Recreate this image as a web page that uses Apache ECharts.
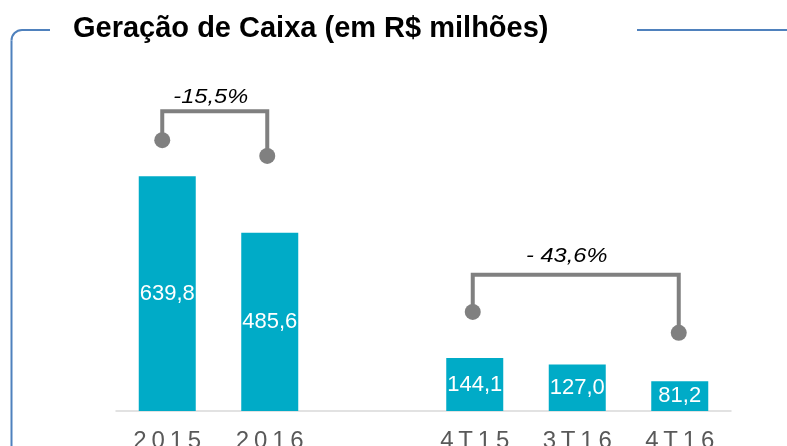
<!DOCTYPE html>
<html>
<head>
<meta charset="utf-8">
<script src="https://cdn.jsdelivr.net/npm/echarts@6/dist/echarts.min.js"></script>
<style>
  html, body { margin: 0; padding: 0; background: #fff; }
  #main { width: 787px; height: 446px; }
</style>
</head>
<body>
<div id="main"></div>
<script>
// categorias (a vazia separa anual de trimestral)
const categories = ['2015', '2016', '', '4T15', '3T16', '4T16'];
const values = [639.8, 485.6, '-', 144.1, 127.0, 81.2];

// chaves de variação: [categoria inicial, categoria final, texto]
const brackets = [
  { from: 0, to: 1, text: '-15,5%', top: 817, left: 738, right: 695, label: 855, dx: -5, labelDx: -4 },
  { from: 3, to: 5, text: '- 43,6%', top: 371, left: 270, right: 213, label: 422, dx: -2, labelDx: -9 }
];

const font = 'Liberation Sans, Arial, sans-serif';
const chart = echarts.init(document.getElementById('main'), null, { renderer: 'canvas' });

const option = {
  animation: false,
  grid: { left: 116, right: 56, top: 44, bottom: 35, outerBoundsMode: 'none', containLabel: false },
  xAxis: {
    type: 'category',
    data: categories,
    axisLine: { lineStyle: { color: '#d9d9d9', width: 1.5 } },
    axisTick: { show: false },
    axisLabel: {
      color: '#595959', fontSize: 24, fontFamily: font, margin: 18,
      formatter: v => v.split('').join('\u2009')
    }
  },
  yAxis: {
    type: 'value',
    min: 0,
    max: 1000,
    show: false,
    splitLine: { show: false }
  },
  series: [
    {
      type: 'bar',
      data: values,
      barWidth: 57,
      itemStyle: { color: '#00abc7' },
      label: {
        show: true,
        position: 'inside',
        color: '#fff',
        fontSize: 22,
        fontFamily: font,
        formatter: p => p.value.toFixed(1).replace('.', ',')
      }
    }
  ]
};
chart.setOption(option);

// desenha as chaves e a moldura
const grey = '#808080';
const blue = '#4f81bd';
const elements = [];
brackets.forEach(b => {
  const px = (c, v) => chart.convertToPixel({ xAxisIndex: 0, yAxisIndex: 0 }, [c, v]);
  const a = px(b.from, b.left), aTop = px(b.from, b.top);
  const c = px(b.to, b.right), cTop = px(b.to, b.top);
  const x1 = a[0] + b.dx, x2 = c[0] + b.dx / 2;
  elements.push({
    type: 'polyline',
    shape: { points: [[x1, a[1]], [x1, aTop[1]], [x2, cTop[1]], [x2, c[1]]] },
    style: { stroke: grey, lineWidth: 4, fill: null }
  });
  elements.push({ type: 'circle', shape: { cx: x1, cy: a[1], r: 8 }, style: { fill: grey } });
  elements.push({ type: 'circle', shape: { cx: x2, cy: c[1], r: 8 }, style: { fill: grey } });
  const lab = px((b.from + b.to) / 2, b.label);
  elements.push({
    type: 'text',
    x: (x1 + x2) / 2 + b.labelDx,
    y: lab[1],
    scaleX: 1.18,
    style: {
      text: b.text, fill: '#000', fontSize: 20, fontStyle: 'italic', fontFamily: font,
      align: 'center', verticalAlign: 'middle'
    }
  });
});

// título e moldura azul
elements.push({
  type: 'text', x: 73, y: 29,
  style: {
    text: 'Geração de Caixa (em R$ milhões)', fill: '#000', fontSize: 29, fontWeight: 'bold',
    fontFamily: font, verticalAlign: 'middle'
  }
});
elements.push({
  type: 'line', shape: { x1: 50, y1: 30, x2: 22, y2: 30 },
  style: { stroke: blue, lineWidth: 2 }
});
elements.push({
  type: 'arc', shape: { cx: 22, cy: 40.5, r: 10.5, startAngle: Math.PI, endAngle: Math.PI * 1.5, clockwise: true },
  style: { stroke: blue, lineWidth: 2, fill: null }
});
elements.push({
  type: 'line', shape: { x1: 11.5, y1: 40.5, x2: 11.5, y2: 446 },
  style: { stroke: blue, lineWidth: 2 }
});
elements.push({
  type: 'line', shape: { x1: 637, y1: 30, x2: 787, y2: 30 },
  style: { stroke: blue, lineWidth: 2 }
});

chart.setOption({ graphic: { elements: elements } });
</script>
</body>
</html>
